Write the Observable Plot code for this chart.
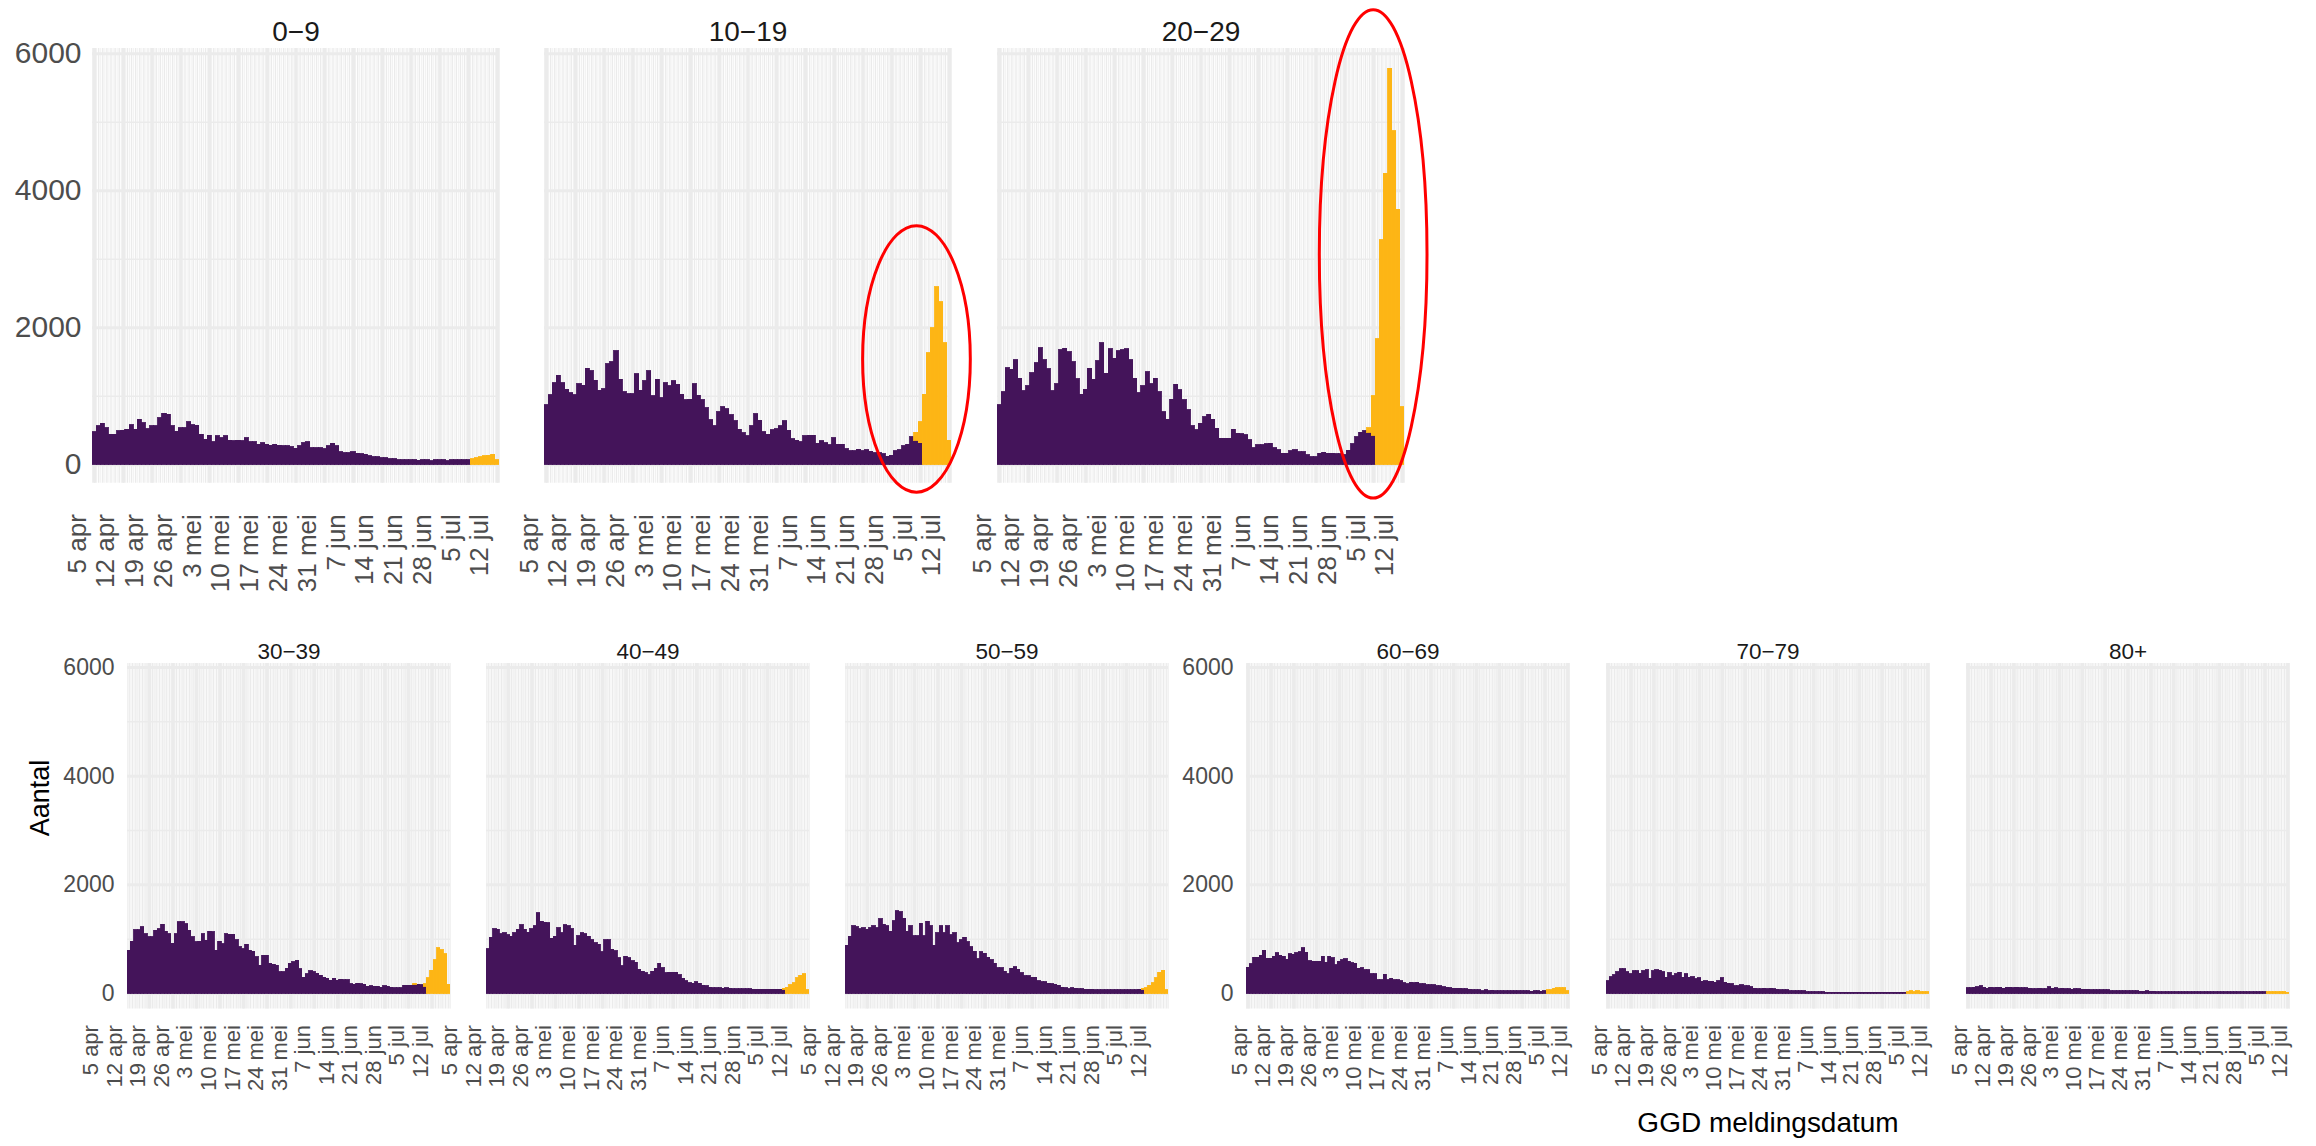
<!DOCTYPE html>
<html>
<head>
<meta charset="utf-8">
<script src="https://cdn.jsdelivr.net/npm/d3@7"></script>
<script src="https://cdn.jsdelivr.net/npm/@observablehq/plot@0.6"></script>
<style>
html, body { margin: 0; padding: 0; background: #ffffff; }
#root { position: relative; width: 2316px; height: 1146px; overflow: hidden; background: #ffffff; }
#root svg { position: absolute; }
</style>
</head>
<body>
<div id="root"></div>
<script>
// ---------- tick labels (weekly) ----------
const tickLabels = ["5 apr","12 apr","19 apr","26 apr","3 mei","10 mei","17 mei","24 mei","31 mei","7 jun","14 jun","21 jun","28 jun","5 jul","12 jul"];
const tickDates  = ["2021-04-05","2021-04-12","2021-04-19","2021-04-26","2021-05-03","2021-05-10","2021-05-17","2021-05-24","2021-05-31","2021-06-07","2021-06-14","2021-06-21","2021-06-28","2021-07-05","2021-07-12"];

// ---------- date ranges (first day, number of days) ----------
const startTop = "2021-04-05", daysTop = 99;          // 0-9, 10-19, 20-29
const startBottomLeft = "2021-04-13", daysBottomLeft = 96;   // 30-39, 40-49, 50-59
const startBottomRight = "2021-04-05", daysBottomRight = 99; // 60-69, 70-79, 80+

// ---------- series: purple per day from first day ----------
const purple_0_9 = [472,560,599,535,438,438,487,496,511,574,
511,657,608,521,560,560,681,745,730,560,
482,535,535,618,574,569,438,365,423,331,
414,389,414,350,341,350,341,389,326,326,
292,316,292,277,292,277,268,268,258,234,
268,316,326,243,243,243,229,268,307,268,
180,170,170,180,161,156,146,122,112,112,
92,97,83,83,63,63,63,63,63,58,
63,63,49,63,63,63,49,63,63,63,
63,63];
const purple_10_19 = [866,1012,1192,1299,1192,1095,1046,1012,1178,1153,
1401,1363,1226,1080,1105,1470,1499,1655,1241,1056,
1032,1032,1324,1080,1217,1363,998,1241,973,1192,
1144,1217,1168,1022,939,949,1178,1007,939,827,
647,560,764,842,813,720,633,511,462,414,
560,740,642,472,438,501,521,560,633,496,
375,350,326,414,423,423,307,341,316,282,
389,292,292,229,195,195,219,195,214,190,
165,165,156,117,131,195,214,272,292,399,
350,310];
const purple_20_29 = [866,1061,1411,1387,1523,1255,1075,1148,1338,1484,
1703,1523,1392,1075,1173,1669,1693,1645,1499,1246,
1022,1095,1401,1241,1508,1776,1328,1684,1547,1654,
1669,1688,1523,1255,1046,1143,1353,1173,1255,1061,
769,657,949,1168,1085,939,793,564,501,599,
696,730,657,526,380,380,380,511,453,443,
428,355,243,282,282,297,307,243,209,161,
161,195,209,185,185,136,112,112,161,175,
161,161,151,151,140,200,300,400,470,490,
470,420];
const purple_30_39 = [785,957,1166,1166,1215,1092,1031,1031,1153,1184,
1264,1141,1092,920,1092,1307,1307,1276,1153,1031,
939,957,1092,969,1141,1123,785,957,908,1092,
1080,1080,982,847,816,896,785,767,663,509,
693,693,552,528,509,387,387,460,552,571,
601,448,294,356,405,387,368,325,294,276,
233,276,233,252,245,245,172,160,184,172,
160,123,129,123,123,110,129,123,110,98,
98,98,141,141,141,160,160,153,123];
const purple_40_49 = [819,1024,1184,1171,1088,1107,1075,1043,1107,1171,
1254,1171,1120,1184,1235,1478,1318,1306,1293,1005,
1043,1203,1107,1254,1235,1184,883,1056,1107,1094,
1043,979,928,896,755,979,979,806,774,646,
499,672,646,595,563,435,403,371,339,403,
454,544,467,371,384,384,384,339,275,224,
192,179,211,179,147,134,110,100,100,100,
90,100,90,75,75,75,75,80,75,65,
65,70,70,70,70,70,70,70,70];
const purple_50_59 = [883,1043,1235,1222,1184,1203,1171,1203,1235,1203,
1363,1267,1235,1139,1331,1510,1491,1376,1139,1235,
1056,1056,1286,1056,1318,1235,883,1107,1235,1107,
1235,1075,1107,928,979,1030,947,851,768,627,
755,736,659,608,544,467,467,403,352,454,
486,435,371,320,320,288,288,230,211,211,
179,173,160,147,102,96,80,96,83,80,
75,70,70,65,60,60,60,60,60,60,
60,60,60,60,60,60,60,65,70];
const purple_60_69 = [475,537,660,660,691,784,642,642,673,740,
691,673,617,722,710,740,760,833,753,598,
580,580,580,679,568,673,648,524,580,611,
629,580,561,549,457,463,432,426,352,352,
241,241,346,247,271,247,240,228,185,167,
197,185,197,167,167,154,154,154,136,130,
117,105,93,86,86,86,74,74,68,62,
62,56,43,56,43,49,45,43,43,37,
37,37,37,37,37,37,37,31,43,43,
31,37];
const purple_70_79 = [228,302,333,395,444,450,395,352,413,413,
364,413,426,271,413,432,420,395,290,370,
321,352,383,290,352,290,302,259,278,216,
228,216,216,197,228,278,197,179,167,136,
130,148,130,130,117,86,80,74,86,74,
86,74,68,56,56,56,43,37,37,37,
37,20,20,20,20,20,20,18,18,18,
18,18,18,18,18,18,18,18,18,18,
18,18,18,18,18,18,18,18,18,18,
18,18];
const purple_80plus = [93,93,105,117,136,105,86,105,93,105,
105,86,105,105,93,105,100,93,99,86,
74,74,86,74,74,117,86,93,74,86,
74,80,68,80,80,68,68,68,56,56,
56,56,56,56,43,43,43,43,43,43,
37,37,43,31,31,43,31,31,25,25,
25,25,25,25,25,25,25,25,25,25,
25,25,25,25,25,25,25,25,25,25,
25,25,25,25,25,25,25,25,25,25,
25,25];

// ---------- series: yellow, aligned to the last days ----------
const yellow_0_9   = [0,0,83,97,112,122,131,146,63];
const yellow_10_19 = [120,308,1022,1625,1995,2589,2370,1771,350];
const yellow_20_29 = [60,582,1830,3275,4248,5781,4866,3723,842];
const yellow_30_39 = [24,0,0,49,282,417,613,834,798,724,160];
const yellow_40_49 = [0,0,0,15,105,155,185,280,330,350,60];
const yellow_50_59 = [0,0,0,20,100,140,185,280,380,420,60];
const yellow_60_69 = [56,56,86,99,99,99,43];
const yellow_70_79 = [25,40,25,40,25,20,20];
const yellow_80plus = [20,20,22,22,22,25,15];

// ---------- y ticks ----------
const yMajor = [0, 2000, 4000, 6000];
const yMinor = [1000, 3000, 5000];

// ---------- red annotation ellipses (day offset from first day, value) ----------
const ellipse_10_19 = {cx: 90.6, cy: 1536, rx: 13.1, ry: 1946};
const ellipse_20_29 = {cx: 91.5, cy: 3070, rx: 13.1, ry: 3565};

const PURPLE = "#44145A";
const YELLOW = "#FDB515";
const GRID = "#EBEBEB";
const FONT = '"Liberation Sans", Arial, Helvetica, sans-serif';
const DAY = 864e5;

function ellipseMark(spec, d0) {
  return (index, scales) => {
    const cx = scales.x(new Date(d0.getTime() + spec.cx * DAY));
    const rx = scales.x(new Date(d0.getTime() + (spec.cx + spec.rx) * DAY)) - cx;
    const cy = scales.y(spec.cy);
    const ry = scales.y(spec.cy - spec.ry) - cy;
    return d3.create("svg:ellipse")
      .attr("cx", cx).attr("cy", cy).attr("rx", Math.abs(rx)).attr("ry", Math.abs(ry))
      .attr("fill", "none").attr("stroke", "#FF0000").attr("stroke-width", 3).node();
  };
}

function panel(cfg) {
  const ML = 110, MR = 40, MT = 60, MB = 160;
  const d0 = new Date(Date.parse(cfg.start + "T00:00:00Z"));
  const d1 = new Date(d0.getTime() + cfg.n * DAY);
  const off = cfg.n - cfg.yellow.length;
  const rowsP = [], rowsY = [];
  for (let i = 0; i < cfg.n; i++) {
    const p = cfg.purple[i] ?? 0;
    const yv = i >= off ? cfg.yellow[i - off] : 0;
    const a = new Date(d0.getTime() + i * DAY), b = new Date(a.getTime() + DAY);
    if (p > 0) rowsP.push({a, b, y1: 0, y2: p});
    if (yv > 0) rowsY.push({a, b, y1: p, y2: p + yv});
  }
  const gridDaily = d3.range(0, cfg.n).map(k => new Date(d0.getTime() + (k + 0.5) * DAY));
  const gridMinor = d3.range(0, cfg.n + 1).map(k => new Date(d0.getTime() + k * DAY));
  const ticks = tickDates.map((s, i) => ({x: new Date(Date.parse(s + "T12:00:00Z")), label: tickLabels[i]}));
  const weekly = ticks.filter(t => t.x > d0 && t.x < d1);
  const marks = [
    Plot.ruleX(gridMinor, {x: d => d, stroke: GRID, strokeWidth: 0.7}),
    Plot.ruleX(gridDaily, {x: d => d, stroke: GRID, strokeWidth: 1.4}),
    Plot.ruleX(weekly, {x: "x", stroke: GRID, strokeWidth: 3.5}),
    Plot.ruleY(yMinor, {y: d => d, stroke: GRID, strokeWidth: 1.5}),
    Plot.ruleY(yMajor, {y: d => d, stroke: GRID, strokeWidth: 3}),
    Plot.rect(rowsP, {x1: "a", x2: "b", y1: "y1", y2: "y2", fill: PURPLE, stroke: PURPLE, strokeWidth: 0.9, shapeRendering: "crispEdges"}),
    Plot.rect(rowsY, {x1: "a", x2: "b", y1: "y1", y2: "y2", fill: YELLOW, stroke: YELLOW, strokeWidth: 0.9, shapeRendering: "crispEdges"}),
    Plot.text(ticks, {x: "x", text: "label", frameAnchor: "bottom", rotate: -90, textAnchor: "end",
      dy: cfg.labelDy, dx: cfg.labelDx, fontSize: cfg.axisFont, fill: "#4D4D4D"}),
    Plot.text([cfg.title], {text: d => d, frameAnchor: "top", dy: cfg.titleDy, fontSize: cfg.titleFont, fill: "#1A1A1A"})
  ];
  if (cfg.showY) {
    marks.push(Plot.text(yMajor, {y: d => d, text: d => String(d), frameAnchor: "left", textAnchor: "end",
      dx: -cfg.yGap, fontSize: cfg.yFont, fill: "#4D4D4D"}));
  }
  if (cfg.ellipse) marks.push(ellipseMark(cfg.ellipse, d0));
  if (cfg.yTitle) {
    marks.push(Plot.text([cfg.yTitle], {text: d => d, frameAnchor: "left", rotate: -90, dx: cfg.yTitleDx,
      fontSize: 27, fill: "#000000"}));
  }
  if (cfg.xTitle) {
    marks.push(Plot.text([cfg.xTitle], {text: d => d, frameAnchor: "bottom", dy: cfg.xTitleDy,
      fontSize: 28, fill: "#000000"}));
  }
  const svg = Plot.plot({
    width: ML + cfg.w + MR,
    height: MT + cfg.h + MB,
    marginLeft: ML, marginRight: MR, marginTop: MT, marginBottom: MB,
    x: {type: "utc", domain: [d0, d1], axis: null},
    y: {domain: cfg.yDomain, axis: null},
    style: {background: "transparent", overflow: "visible", fontFamily: FONT},
    marks
  });
  svg.style.left = (cfg.left - ML) + "px";
  svg.style.top = (cfg.top - MT) + "px";
  document.getElementById("root").appendChild(svg);
}

// ---------- top row ----------
const topCommon = {start: startTop, n: daysTop, top: 48.3, w: 407, h: 434.7, yDomain: [-270, 6076],
  axisFont: 26, yFont: 30, titleFont: 28, titleDy: -27, labelDy: 31, labelDx: -9, yGap: 11};
panel({...topCommon, title: "0\u22129", left: 92, purple: purple_0_9, yellow: yellow_0_9, showY: true});
panel({...topCommon, title: "10\u221219", left: 544, purple: purple_10_19, yellow: yellow_10_19, ellipse: ellipse_10_19});
panel({...topCommon, title: "20\u221229", left: 997, purple: purple_20_29, yellow: yellow_20_29, ellipse: ellipse_20_29});

// ---------- bottom row ----------
const botCommon = {top: 662.7, w: 323, h: 345.6, yDomain: [-287, 6074],
  axisFont: 22, yFont: 23, titleFont: 22.5, titleDy: -20, labelDy: 16, yGap: 13};
const botLeft = {...botCommon, start: startBottomLeft, n: daysBottomLeft, labelDx: -4};
const botRight = {...botCommon, start: startBottomRight, n: daysBottomRight, labelDx: -1};
panel({...botLeft, title: "30\u221239", left: 127, purple: purple_30_39, yellow: yellow_30_39, showY: true,
  yTitle: "Aantal", yTitleDx: -87});
panel({...botLeft, title: "40\u221249", left: 486, purple: purple_40_49, yellow: yellow_40_49});
panel({...botLeft, title: "50\u221259", left: 845, purple: purple_50_59, yellow: yellow_50_59});
panel({...botRight, title: "60\u221269", left: 1246, purple: purple_60_69, yellow: yellow_60_69, showY: true});
panel({...botRight, title: "70\u221279", left: 1606, purple: purple_70_79, yellow: yellow_70_79,
  xTitle: "GGD meldingsdatum", xTitleDy: 123});
panel({...botRight, title: "80+", left: 1966, purple: purple_80plus, yellow: yellow_80plus});
</script>
</body>
</html>
